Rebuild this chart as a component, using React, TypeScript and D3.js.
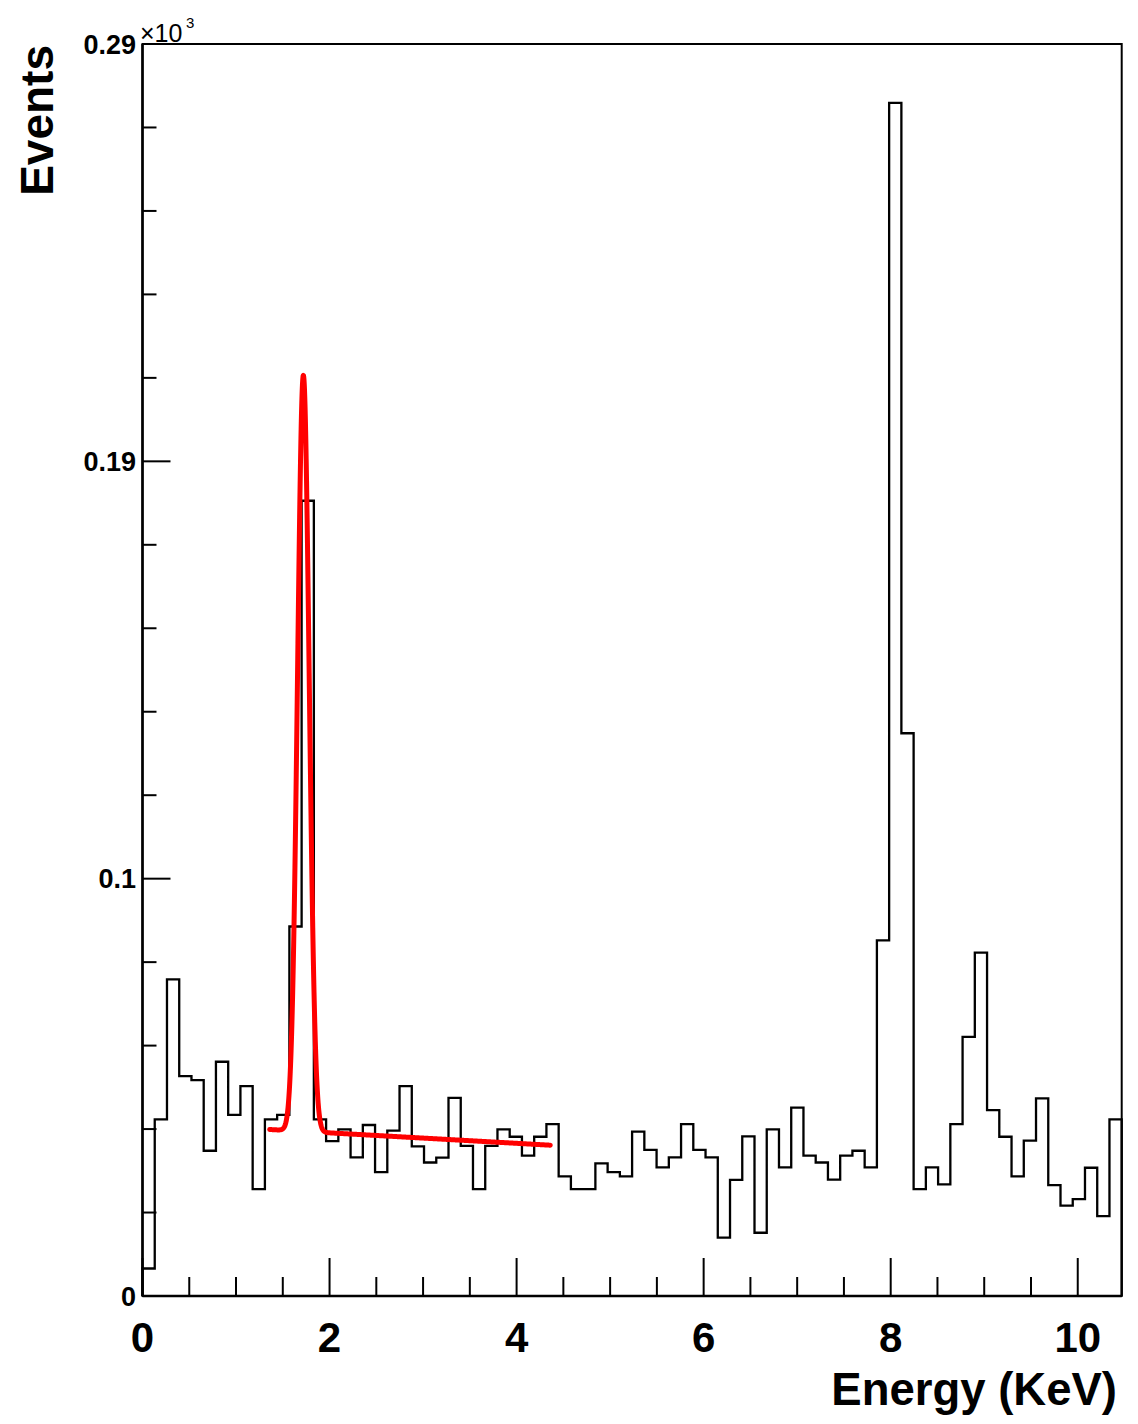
import React from 'react';
import * as d3 from 'd3';

// ---- data ----
const X_MAX = 10.47; // keV, right edge of the frame
const Y_MAX = 287; // events, top of the frame (0.29 x10^3)
const counts = [
  6.3, 40.5, 72.6, 50.4, 49.5, 33.3, 53.7, 41.5, 48.1, 24.5,
  40.5, 41.5, 84.7, 182.3, 40.5, 35.5, 38.2, 31.8, 39.2, 28.4,
  37.9, 48.1, 34.3, 30.6, 31.7, 45.4, 34.4, 24.5, 34.4, 38.2,
  36.5, 32.2, 36.5, 39.4, 27.4, 24.5, 24.5, 30.4, 28.4, 27.4,
  37.7, 33.5, 29.5, 31.8, 39.4, 33.5, 31.8, 13.4, 26.6, 36.6,
  14.5, 38.2, 29.5, 43.2, 32.2, 30.6, 26.7, 32.2, 33.3, 29.5,
  81.5, 273.5, 129, 24.5, 29.5, 25.6, 39.4, 59.4, 78.7, 42.6,
  36.5, 27.4, 35.6, 45.3, 25.4, 20.7, 22.2, 29.4, 18.3, 40.5,
];
const xMajorTicks = [0, 2, 4, 6, 8, 10];
const xMinorStep = 0.5;
const yTickValues = [0, 95.67, 191.33, 287];
const yTickLabels = ['0', '0.1', '0.19', '0.29'];
const yMinorCount = 15;

// fit: gaussian + linear background
const fitRange = [1.36, 4.36];
const fitMean = 1.72;
const fitSigma = 0.062;
const fitAmp = 173.3;
const fitBg0 = 39.8;
const fitBg1 = -1.2;

const W = 1138;
const H = 1424;
const L = 142.5;
const R = 1121.7;
const T = 44;
const B = 1296;
const FONT = '"Liberation Sans", Arial, Helvetica, sans-serif';

export default function App() {
  const x = d3.scaleLinear().domain([0, X_MAX]).range([L, R]);
  const y = d3.scaleLinear().domain([0, Y_MAX]).range([B, T]);
  const nb = counts.length;
  const bw = X_MAX / nb;

  // histogram step path
  const pts: [number, number][] = [[0, 0]];
  counts.forEach((c, i) => {
    pts.push([i * bw, c]);
    pts.push([(i + 1) * bw, c]);
  });
  pts.push([X_MAX, 0]);
  const line = d3
    .line<[number, number]>()
    .x((d) => x(d[0]))
    .y((d) => y(d[1]));
  const histPath = line(pts) || '';

  // fit curve
  const fx = d3.range(fitRange[0], fitRange[1] + 1e-9, 0.002);
  const fitPts: [number, number][] = fx.map((v) => [
    v,
    fitBg0 + fitBg1 * v + fitAmp * Math.exp(-0.5 * Math.pow((v - fitMean) / fitSigma, 2)),
  ]);
  const fitPath = line(fitPts) || '';

  const xMinor = d3.range(0, X_MAX + 1e-9, xMinorStep);
  const yMinor = d3.range(0, yMinorCount + 1).map((i) => (Y_MAX * i) / yMinorCount);

  return (
    <svg
      width={W}
      height={H}
      style={{ position: 'absolute', left: 0, top: 0, background: '#fff' }}
      fontFamily={FONT}
    >
      <rect x={0} y={0} width={W} height={H} fill="#fff" />
      {/* histogram */}
      <path d={histPath} fill="none" stroke="#000" strokeWidth={2.3} strokeLinejoin="miter" />
      {/* fit */}
      <path d={fitPath} fill="none" stroke="#ff0000" strokeWidth={5} strokeLinejoin="round" strokeLinecap="round" />
      {/* frame */}
      <rect x={L} y={T} width={R - L} height={B - T} fill="none" stroke="#000" strokeWidth={2} />
      <line x1={L} x2={L} y1={T} y2={B} stroke="#000" strokeWidth={2.5} />
      <line x1={L} x2={R} y1={B} y2={B} stroke="#000" strokeWidth={2.5} />
      {/* x ticks */}
      {xMinor.map((v) => {
        const major = xMajorTicks.includes(v);
        return (
          <line key={'xm' + v} x1={x(v)} x2={x(v)} y1={B} y2={B - (major ? 38 : 19)} stroke="#000" strokeWidth={2} />
        );
      })}
      {xMajorTicks.map((v) => (
        <text key={'xl' + v} x={x(v)} y={1352} textAnchor="middle" fontSize={42} fontWeight="bold">
          {v}
        </text>
      ))}
      {/* y ticks */}
      {yMinor.map((v, i) => (
        <line key={'ym' + i} x1={L} x2={L + (i % 5 === 0 ? 28 : 14)} y1={y(v)} y2={y(v)} stroke="#000" strokeWidth={2} />
      ))}
      {yTickValues.map((v, i) => (
        <text key={'yl' + i} x={136} y={y(v)} dy="0.36em" textAnchor="end" fontSize={27} fontWeight="bold">
          {yTickLabels[i]}
        </text>
      ))}
      {/* exponent */}
      <text x={140} y={42} fontSize={25}>
        ×10
      </text>
      <text x={186} y={28} fontSize={15}>
        3
      </text>
      {/* titles */}
      <text x={1117} y={1405} textAnchor="end" fontSize={45.5} fontWeight="bold">
        Energy (KeV)
      </text>
      <text transform="translate(53,45) rotate(-90)" textAnchor="end" fontSize={46} fontWeight="bold">
        Events
      </text>
    </svg>
  );
}
